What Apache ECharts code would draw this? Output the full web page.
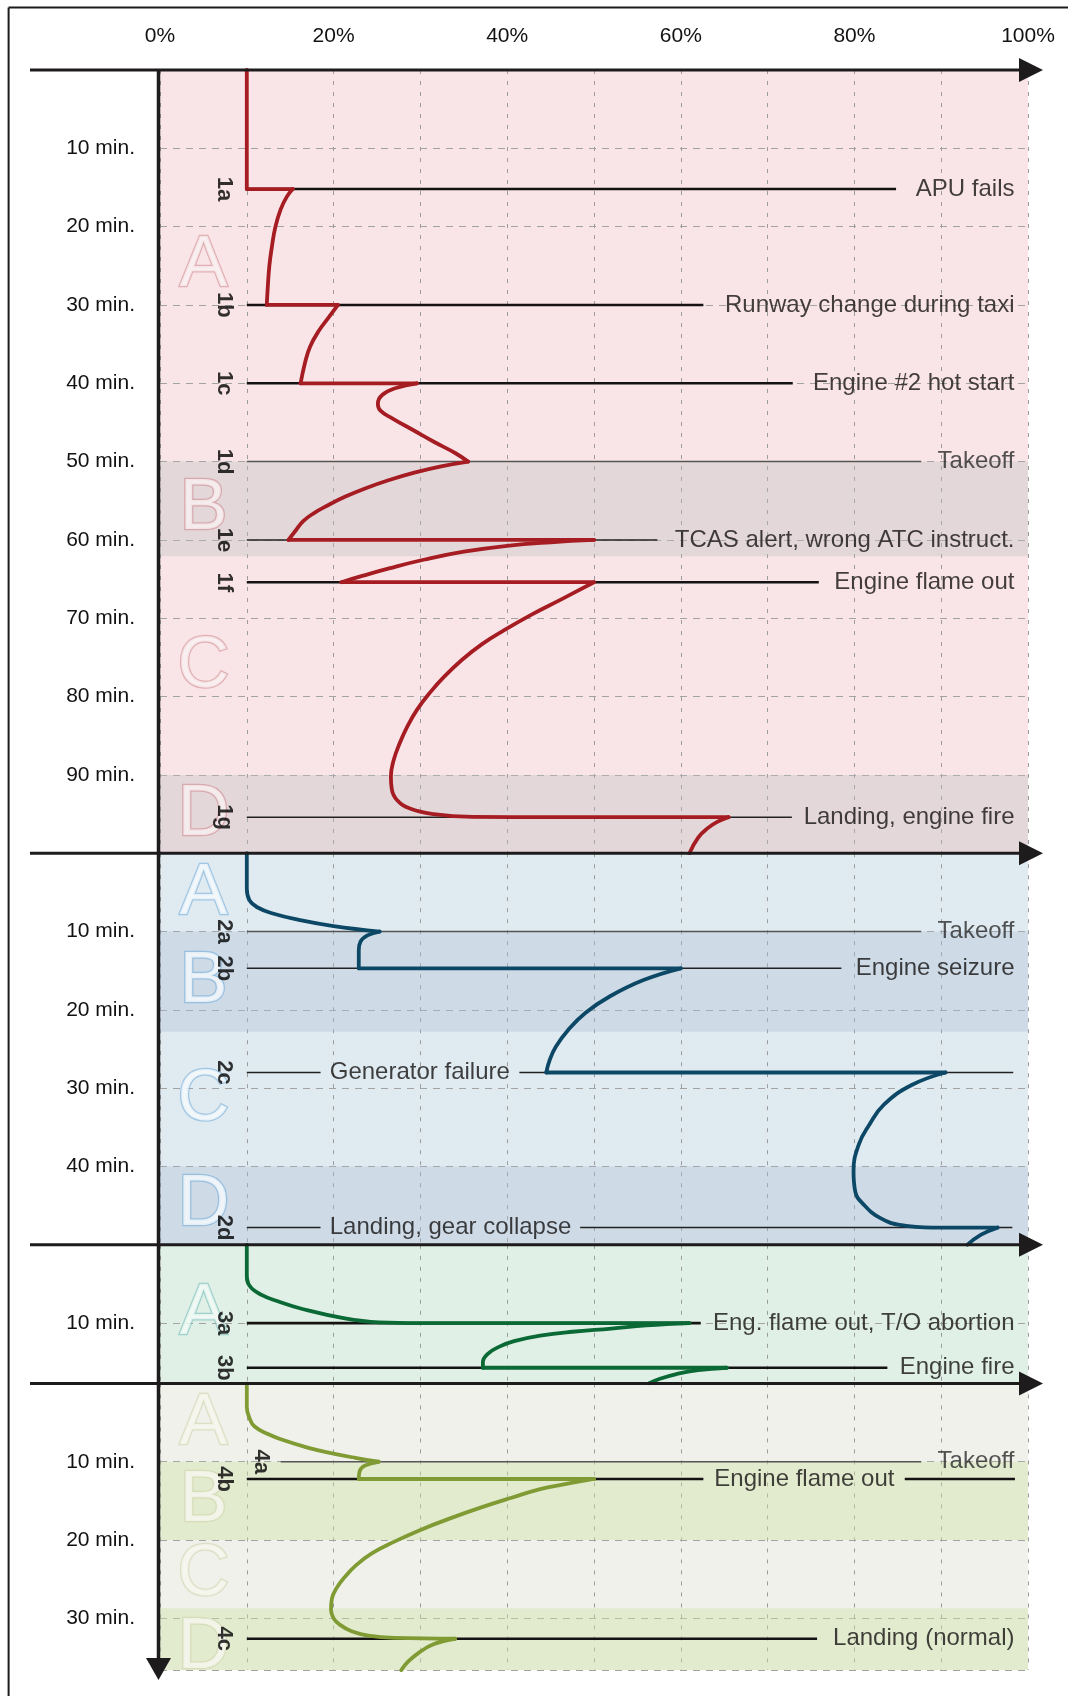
<!DOCTYPE html>
<html><head><meta charset="utf-8">
<script src="https://cdn.jsdelivr.net/npm/echarts@6/dist/echarts.min.js"></script>
<style>html,body{margin:0;padding:0;background:#fff}#c{width:1068px;height:1696px}</style>
</head><body><div id="c"></div>
<script>
// ================= DATA =================
const xTickLabels = ['0%', '20%', '40%', '60%', '80%', '100%'];
const panelMinutes = [100, 50, 17.7, 36.6];   // length of each time panel (min)

// shaded phase bands [from, to] in minutes
const bands1 = [[50, 62.1], [90, 100]];
const bands2 = [[10, 22.8], [40, 50]];
const bands3 = [];
const bands4 = [[10, 20], [28.7, 36.6]];

// phase letters [letter, minute]
const letters1 = [['A', 25.1], ['B', 56.1], ['C', 76.3], ['D', 95.1]];
const letters2 = [['A', 5.2], ['B', 16.4], ['C', 31.5], ['D', 45.0]];
const letters3 = [['A', 8.9]];
const letters4 = [['A', 5.2], ['B', 15.0], ['C', 24.5], ['D', 33.8]];

// events [id, minute, text]
const events1 = [
  ['1a', 15.2, 'APU fails'],
  ['1b', 30, 'Runway change during taxi'],
  ['1c', 40, 'Engine #2 hot start'],
  ['1d', 50, 'Takeoff'],
  ['1e', 60, 'TCAS alert, wrong ATC instruct.'],
  ['1f', 65.4, 'Engine flame out'],
  ['1g', 95.4, 'Landing, engine fire']
];
const events2 = [
  ['2a', 10, 'Takeoff'],
  ['2b', 14.7, 'Engine seizure'],
  ['2c', 28.0, 'Generator failure'],
  ['2d', 47.8, 'Landing, gear collapse']
];
const events3 = [
  ['3a', 10, 'Eng. flame out, T/O abortion'],
  ['3b', 15.7, 'Engine fire']
];
const events4 = [
  ['4a', 10, 'Takeoff'],
  ['4b', 12.2, 'Engine flame out'],
  ['4c', 32.6, 'Landing (normal)']
];

// workload curves: segments of [percent, minute]
const curve1 = [
  [[10, 0], [10, 15.2]],
  [[10, 15.2], [15.3, 15.2]],
  [[15.3, 15.2], [14.6, 16.2], [13.9, 17.8], [13.3, 20], [12.9, 22.5], [12.6, 25], [12.4, 28], [12.3, 30]],
  [[12.3, 30], [20.5, 30]],
  [[20.5, 30], [19.5, 31.5], [18.3, 33.3], [17.3, 35.3], [16.7, 37.4], [16.2, 40]],
  [[16.2, 40], [29.6, 40]],
  [[29.6, 40], [27.2, 40.6], [25.6, 41.5], [25.1, 42.6], [25.4, 43.5], [26.8, 44.5], [29.2, 46], [31.6, 47.5], [34, 48.9], [35.5, 50]],
  [[35.5, 50], [32.4, 50.6], [29.3, 51.4], [26.4, 52.35], [23.7, 53.4], [21.3, 54.5], [19.3, 55.6], [17.7, 56.6], [16.5, 57.6], [15.7, 58.7], [14.8, 60]],
  [[14.8, 60], [50, 60]],
  [[50, 60], [45, 60.3], [40, 60.75], [35, 61.5], [30.5, 62.5], [26.5, 63.6], [23.3, 64.6], [20.9, 65.4]],
  [[20.9, 65.4], [50, 65.4]],
  [[50, 65.4], [46.4, 67.5], [42.7, 69.6], [39.7, 71.5], [37.1, 73.3], [34.8, 75.3], [32.8, 77.4], [31.1, 79.5], [29.6, 81.7], [28.5, 83.8], [27.6, 86], [26.9, 88.2], [26.6, 90.2], [26.7, 91.8], [27.3, 93.2], [28.8, 94.3], [31.5, 95], [36, 95.35], [45, 95.4], [65.5, 95.4]],
  [[65.5, 95.4], [64.2, 96], [63.1, 96.8], [62, 98], [61, 100]]
];
const curve2 = [
  [[10, 0], [10, 4.5], [10.3, 6], [11.2, 6.9], [13, 7.7], [16, 8.5], [20, 9.3], [25.3, 10]],
  [[25.3, 10], [23.9, 10.5], [23.1, 11.3], [22.9, 12.4], [22.9, 14.7]],
  [[22.9, 14.7], [60, 14.7]],
  [[60, 14.7], [55.7, 16.2], [51.8, 18.3], [49, 20.4], [47, 22.6], [45.6, 24.7], [44.9, 26.4], [44.5, 28.0]],
  [[44.5, 28.0], [90.5, 28.0]],
  [[90.5, 28.0], [86.6, 29.6], [83.4, 32.1], [81.7, 34.7], [80.5, 37.2], [79.9, 40.6], [80.1, 43.2], [81.1, 44.9], [83, 46.6], [85.4, 47.5], [89, 47.8], [96.5, 47.8]],
  [[96.5, 47.8], [94.6, 48.7], [93, 50]]
];
const curve3 = [
  [[10, 0], [10, 3.8], [10.3, 5.2], [11.7, 6.4], [13.8, 7.3], [16.1, 8.1], [21.3, 9.4], [25.2, 9.9], [30, 10], [61, 10]],
  [[61, 10], [56, 10.3], [52, 10.7], [47.5, 11.1], [43.8, 11.6], [40.8, 12.3], [39.1, 13], [37.8, 13.9], [37.2, 15], [37.2, 15.7]],
  [[37.2, 15.7], [65.3, 15.7]],
  [[65.3, 15.7], [62, 16.0], [59.5, 16.5], [57.6, 17.1], [56.3, 17.7]]
];
const curve4 = [
  [[10, 0], [10, 3], [10.3, 4.4], [10.9, 5.5], [12.5, 6.5], [14.1, 7.2], [17, 8.2], [19.7, 8.9], [22.5, 9.5], [25.2, 10]],
  [[25.2, 10], [23.6, 10.5], [23, 11.2], [22.9, 12.2]],
  [[22.9, 12.2], [50, 12.2]],
  [[50, 12.2], [46.5, 12.9], [43.8, 13.5], [40.5, 14.6], [37.1, 15.8], [33.5, 17.2], [30, 18.7], [27, 20.2], [24.4, 21.7], [22.6, 23.2], [21.3, 24.7], [20.3, 26.2], [19.8, 27.5], [19.7, 28.9], [20, 30], [20.7, 30.8], [22, 31.6], [24, 32.2], [27, 32.5], [34, 32.6]],
  [[34, 32.6], [31.5, 33.3], [29.8, 34.4], [28.6, 35.5], [27.8, 36.6]]
];

// ================= LAYOUT / STYLE =================
const eventLayout = [
  { // panel 1
    kinds: ['major', 'major', 'major', 'takeoff', 'minor', 'major', 'minor'],
    spans: [[[10, 84.8]], [[10, 62.6]], [[10, 72.9]], [[10, 87.7]], [[10, 57.3]], [[10, 75.9]], [[10, 72.8]]],
    text: [['end', 98.5], ['end', 98.5], ['end', 98.5], ['end', 98.5], ['end', 98.5], ['end', 98.5], ['end', 98.5]],
    idX: [7.4, 7.4, 7.4, 7.4, 7.4, 7.4, 7.4]
  },
  { // panel 2
    kinds: ['takeoff', 'minor', 'minor', 'minor'],
    spans: [[[10, 87.7]], [[10, 78.5]], [[10, 18.5], [41.4, 98.3]], [[10, 18.5], [48.4, 98.2]]],
    text: [['end', 98.5], ['end', 98.5], ['start', 19.5], ['start', 19.5]],
    idX: [7.4, 7.4, 7.4, 7.4]
  },
  { // panel 3
    kinds: ['major', 'major'],
    spans: [[[10, 62.3]], [[10, 83.8]]],
    text: [['end', 98.5], ['end', 98.5]],
    idX: [7.4, 7.4]
  },
  { // panel 4
    kinds: ['takeoff', 'major', 'major'],
    spans: [[[13.9, 87.7]], [[10, 62.6], [85.8, 98.5]], [[10, 75.7]]],
    text: [['end', 98.5], ['start', 63.8], ['end', 98.5]],
    idX: [11.7, 7.4, 7.4]
  }
];

const panelColors = ['#f9e5e7', '#e0ebf1', '#e0f0e6', '#f1f1ec'];
const bandColors = ['rgba(190,190,196,0.36)', 'rgba(176,192,214,0.36)', 'rgba(0,0,0,0)', 'rgba(208,226,168,0.42)'];
const curveColors = ['#a51c22', '#0c4866', '#0a6934', '#809b34'];
const letterStyles = [
  { color: '#f9f1f2', border: 'rgba(200,120,125,0.6)' },
  { color: '#f6fafc', border: 'rgba(110,170,215,0.7)' },
  { color: '#f4fbf8', border: 'rgba(110,185,180,0.7)' },
  { color: '#f8f8f0', border: 'rgba(205,212,170,0.75)' }
];
const lineKinds = {
  major: { color: '#151213', width: 2.6 },
  minor: { color: '#222', width: 1.5 },
  takeoff: { color: '#555', width: 1.5 }
};

const allBands = [bands1, bands2, bands3, bands4];
const allLetters = [letters1, letters2, letters3, letters4];
const allEvents = [events1, events2, events3, events4];
const allCurves = [curve1, curve2, curve3, curve4];

const FONT = '"Liberation Sans", Arial, Helvetica, sans-serif';
const GRID_TOP = 70, PXMIN = 7.832, GRID_LEFT = 160, GRID_RIGHT = 40;
const TEXT = '#141112';

(function () {
  const grids = [], xAxes = [], yAxes = [], series = [];
  let curTop = GRID_TOP;
  panelMinutes.forEach((m, i) => {
    const h = m * PXMIN;
    grids.push({ left: GRID_LEFT, right: GRID_RIGHT, top: curTop, height: h, show: true, backgroundColor: panelColors[i], borderWidth: 0 });
    curTop += h;
    xAxes.push({
      gridIndex: i, type: 'value', position: 'top', min: 0, max: 100, interval: 10,
      axisLine: { show: false }, axisTick: { show: false },
      axisLabel: i === 0 ? {
        show: true, margin: 23, fontSize: 21, color: TEXT, fontFamily: FONT,
        formatter: v => (v % 20 === 0 ? xTickLabels[v / 20] : '')
      } : { show: false },
      splitLine: { show: true, lineStyle: { color: '#9c9c9c', width: 1, type: [4, 7] } }
    });
    yAxes.push({
      gridIndex: i, type: 'value', inverse: true, min: 0, max: m, interval: 10,
      axisLine: { show: false }, axisTick: { show: false },
      axisLabel: {
        show: true, margin: 25, fontSize: 21, color: TEXT, fontFamily: FONT,
        showMinLabel: false, showMaxLabel: false, formatter: v => v + ' min.'
      },
      splitLine: { show: true, lineStyle: { color: '#a3a3a3', width: 1, type: [7, 6] } }
    });

    series.push({
      type: 'line', xAxisIndex: i, yAxisIndex: i, data: [[0, 0]], symbol: 'none', silent: true,
      lineStyle: { opacity: 0 }, z: 1,
      markArea: {
        silent: true,
        data: allBands[i].map(b => [{ yAxis: b[0], itemStyle: { color: bandColors[i] } }, { yAxis: b[1] }])
      }
    });

    series.push({
      type: 'scatter', xAxisIndex: i, yAxisIndex: i, symbolSize: 1, silent: true, z: 2,
      itemStyle: { color: 'rgba(0,0,0,0)' },
      data: allLetters[i].map(l => ({
        value: [5, l[1]],
        label: {
          show: true, position: 'inside', formatter: l[0], fontSize: 72, fontFamily: FONT,
          color: letterStyles[i].color, textBorderColor: letterStyles[i].border, textBorderWidth: 2.5
        }
      }))
    });

    const lay = eventLayout[i];
    allEvents[i].forEach((ev, k) => {
      const st = lineKinds[lay.kinds[k]];
      lay.spans[k].forEach(sp => {
        series.push({
          type: 'line', xAxisIndex: i, yAxisIndex: i, symbol: 'none', silent: true, z: 3,
          data: [[sp[0], ev[1]], [sp[1], ev[1]]],
          lineStyle: { color: st.color, width: st.width }
        });
      });
    });

    allCurves[i].forEach(seg => {
      series.push({
        type: 'line', xAxisIndex: i, yAxisIndex: i, symbol: 'none', silent: true, z: 4,
        smooth: seg.length > 2 ? 0.45 : false,
        data: seg,
        lineStyle: { color: curveColors[i], width: 3.8, join: 'round', cap: 'round' }
      });
    });

    series.push({
      type: 'scatter', xAxisIndex: i, yAxisIndex: i, symbolSize: 1, silent: true, z: 6,
      itemStyle: { color: 'rgba(0,0,0,0)' },
      data: allEvents[i].flatMap((ev, k) => {
        const t = lay.text[k];
        const isTake = lay.kinds[k] === 'takeoff';
        return [
          {
            value: [t[1], ev[1]],
            label: {
              show: true, position: t[0] === 'end' ? 'left' : 'right', distance: 0,
              formatter: ev[2], fontSize: 24, fontFamily: FONT,
              color: isTake ? '#2a2a2a' : TEXT, textBorderWidth: 0
            }
          },
          {
            value: [lay.idX[k], ev[1]],
            label: {
              show: true, position: 'inside', rotate: -90, formatter: ev[0],
              fontSize: 22, fontWeight: 'bold', fontFamily: FONT, color: '#000', textBorderWidth: 0
            }
          }
        ];
      })
    });
  });

  const chart = echarts.init(document.getElementById('c'), null, { renderer: 'canvas', width: 1068, height: 1696 });
  chart.setOption({
    backgroundColor: '#ffffff',
    animation: false,
    grid: grids, xAxis: xAxes, yAxis: yAxes, series: series
  });

  const P = (gi, x, t) => chart.convertToPixel({ gridIndex: gi }, [x, t]);
  const g = [];
  const ink = '#1e1b1c';
  g.push({ type: 'line', shape: { x1: 8.6, y1: 7.4, x2: 1068, y2: 7.4 }, style: { stroke: ink, lineWidth: 2 }, z: 100 });
  g.push({ type: 'line', shape: { x1: 8.6, y1: 7.4, x2: 8.6, y2: 1696 }, style: { stroke: ink, lineWidth: 2 }, z: 100 });
  panelMinutes.forEach((m, i) => {
    const a = P(i, 0, 0), b = P(i, 100, 0);
    g.push({ type: 'line', shape: { x1: 30, y1: a[1], x2: b[0] + 2, y2: a[1] }, style: { stroke: ink, lineWidth: 3 }, z: 100 });
    g.push({ type: 'polygon', shape: { points: [[b[0] - 9, a[1] - 12], [b[0] + 15, a[1]], [b[0] - 9, a[1] + 12]] }, style: { fill: ink }, z: 100 });
  });
  const yt = P(0, 0, 0), yb = P(3, 0, panelMinutes[3]);
  g.push({ type: 'line', shape: { x1: yt[0] - 1.5, y1: yt[1], x2: yb[0] - 1.5, y2: yb[1] - 4 }, style: { stroke: ink, lineWidth: 3.5 }, z: 100 });
  g.push({ type: 'polygon', shape: { points: [[yb[0] - 14, yb[1] - 12], [yb[0] + 11, yb[1] - 12], [yb[0] - 1.5, yb[1] + 10]] }, style: { fill: ink }, z: 100 });
  chart.setOption({ graphic: { elements: g } });
})();
</script>
</body></html>
